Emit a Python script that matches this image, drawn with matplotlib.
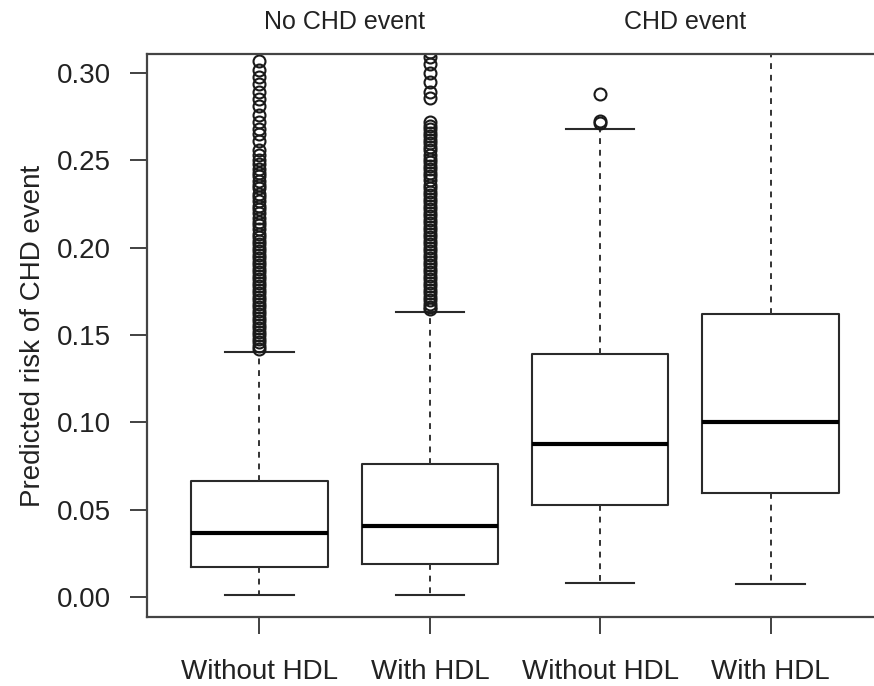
import matplotlib
matplotlib.use("Agg")
import matplotlib.pyplot as plt
import matplotlib.transforms as mtransforms

plt.rcParams['font.family'] = ['Liberation Sans', 'DejaVu Sans']

# ---- data ----
group_titles = ["No CHD event", "CHD event"]
tick_labels = ["Without HDL", "With HDL", "Without HDL", "With HDL"]
whis_lo = [0.0011, 0.0011, 0.0082, 0.0073]
q1 = [0.0172, 0.0189, 0.0527, 0.0597]
median = [0.0367, 0.0407, 0.0876, 0.1002]
q3 = [0.0666, 0.0762, 0.1392, 0.1619]
whis_hi = [0.1401, 0.1631, 0.2679, 0.3400]

fliers_1 = [0.307, 0.302, 0.298, 0.294, 0.289, 0.285, 0.281, 0.276, 0.272,
            0.268, 0.265, 0.261, 0.256, 0.253, 0.250, 0.248, 0.245, 0.243,
            0.241, 0.238, 0.236, 0.234, 0.231, 0.229, 0.227, 0.224, 0.222,
            0.220, 0.217, 0.215, 0.213, 0.211, 0.208, 0.206, 0.204, 0.202,
            0.200, 0.198, 0.196, 0.194, 0.192, 0.190, 0.188, 0.186, 0.184,
            0.182, 0.180, 0.178, 0.176, 0.174, 0.172, 0.170, 0.168, 0.166,
            0.164, 0.162, 0.160, 0.158, 0.156, 0.154, 0.152, 0.150, 0.148,
            0.146, 0.144, 0.142]
fliers_2 = [0.312, 0.309, 0.305, 0.300, 0.295, 0.289, 0.286, 0.272, 0.270,
            0.268, 0.266, 0.264, 0.262, 0.260, 0.258, 0.256, 0.253, 0.251,
            0.249, 0.247, 0.245, 0.243, 0.241, 0.239, 0.236, 0.234, 0.232,
            0.230, 0.228, 0.226, 0.224, 0.222, 0.220, 0.218, 0.216, 0.214,
            0.212, 0.210, 0.208, 0.206, 0.204, 0.202, 0.200, 0.198, 0.196,
            0.194, 0.192, 0.190, 0.188, 0.186, 0.184, 0.182, 0.180, 0.178,
            0.176, 0.174, 0.172, 0.170, 0.168, 0.166, 0.165]
fliers_3 = [0.2712, 0.2725, 0.2881]
fliers_4 = []
fliers = [fliers_1, fliers_2, fliers_3, fliers_4]

y_ticks = [0.00, 0.05, 0.10, 0.15, 0.20, 0.25, 0.30]
y_label = "Predicted risk of CHD event"

# ---- figure ----
W, H = 874, 686
fig = plt.figure(figsize=(W / 100, H / 100), dpi=100)
left, right, top, bottom = 147, 883, 54, 617
ax = fig.add_axes([left / W, 1 - bottom / H, (right - left) / W, (bottom - top) / H])

stats = []
for i in range(4):
    stats.append(dict(whislo=whis_lo[i], q1=q1[i], med=median[i], q3=q3[i],
                      whishi=whis_hi[i], fliers=fliers[i]))

line_c = '#2a2a2a'
ax.bxp(stats, positions=[1, 2, 3, 4], widths=0.8, capwidths=0.4,
       showfliers=True, patch_artist=False,
       boxprops=dict(color=line_c, linewidth=1.5),
       whiskerprops=dict(color='#333333', linewidth=1.4, linestyle=(0, (3, 3))),
       capprops=dict(color=line_c, linewidth=1.5),
       medianprops=dict(color='black', linewidth=3.0, solid_capstyle='butt'),
       flierprops=dict(marker='o', markerfacecolor='none', markeredgecolor='#1a1a1a',
                       markersize=8.6, markeredgewidth=1.5, linestyle='none'))

ax.set_xlim(0.34, 4.66)
ax.set_ylim(-0.0115, 0.311)
ax.set_yticks(y_ticks)
ax.set_yticklabels([f"{v:.2f}" for v in y_ticks])
ax.set_xticks([1, 2, 3, 4])
ax.set_xticklabels(tick_labels)
ax.tick_params(axis='both', length=12, width=1.3, color='#333333',
               labelsize=20, labelcolor='#222222', pad=14)
ax.tick_params(axis='x', pad=18)
for s in ax.spines.values():
    s.set_color('#444444')
    s.set_linewidth(1.6)
ax.set_ylabel(y_label, fontsize=20, color='#222222', labelpad=8)

trans = mtransforms.blended_transform_factory(ax.transData, fig.transFigure)
ax.text(1.5, 1 - 22 / H, group_titles[0], transform=trans, ha='center', va='center',
        fontsize=18, color='#222222')
ax.text(3.5, 1 - 22 / H, group_titles[1], transform=trans, ha='center', va='center',
        fontsize=18, color='#222222')

fig.savefig("out.png", dpi=100)
